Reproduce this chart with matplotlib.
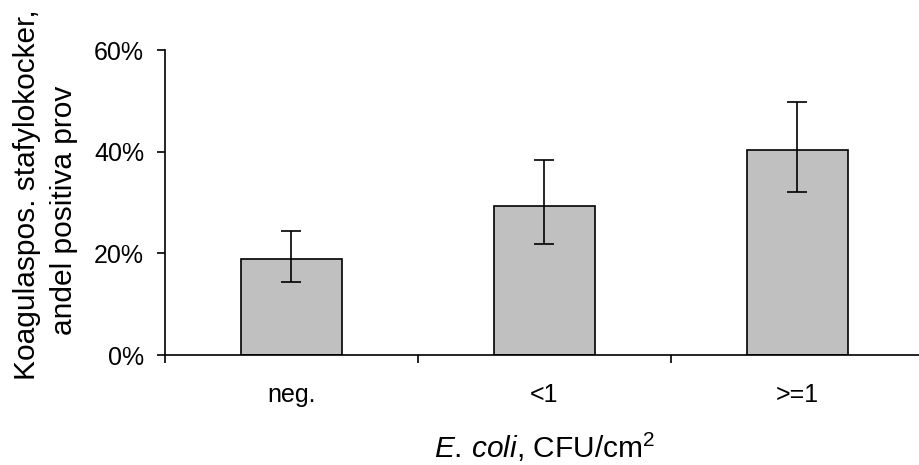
import matplotlib
matplotlib.use("Agg")
import matplotlib.pyplot as plt
from matplotlib.ticker import PercentFormatter

categories = ["neg.", "<1", ">=1"]
share = [18.8, 29.4, 40.4]
err_low = [14.4, 21.9, 32.1]
err_high = [24.3, 38.4, 49.8]
ylabel_lines = ["Koagulaspos. stafylokocker,", "andel positiva prov"]

plt.rcParams["font.family"] = ["Liberation Sans", "DejaVu Sans"]
plt.rcParams["mathtext.fontset"] = "custom"
plt.rcParams["mathtext.rm"] = "Liberation Sans"
plt.rcParams["mathtext.it"] = "Liberation Sans:italic"

W, H = 920, 465
fig = plt.figure(figsize=(W / 100, H / 100), dpi=100)
ax = fig.add_axes([165 / W, 1 - 355 / H, 3 * 253 / W, 305 / H])

x = list(range(len(categories)))
yerr = [[s - lo for s, lo in zip(share, err_low)],
        [hi - s for s, hi in zip(share, err_high)]]
ax.bar(x, share, width=0.4, color="#c0c0c0", edgecolor="black", linewidth=1.2)
ax.errorbar(x, share, yerr=yerr, fmt="none", ecolor="black", elinewidth=1.2,
            capsize=7, capthick=1.2)

ax.set_xlim(-0.5, 2.5)
ax.set_ylim(0, 60)
ax.set_yticks([0, 20, 40, 60])
ax.yaxis.set_major_formatter(PercentFormatter(decimals=0))
ax.tick_params(axis="y", length=6, width=1.2, pad=9, labelsize=18)

# category boundaries get the ticks, labels sit between them
ax.set_xticks([-0.5, 0.5, 1.5, 2.5])
ax.set_xticklabels([])
ax.set_xticks(x, minor=True)
ax.set_xticklabels(categories, minor=True)
ax.tick_params(axis="x", which="major", length=6, width=1.2)
ax.tick_params(axis="x", which="minor", length=0, pad=20, labelsize=18)

for side in ["top", "right"]:
    ax.spines[side].set_visible(False)
for side in ["left", "bottom"]:
    ax.spines[side].set_linewidth(1.2)

ax.set_xlabel(r"$\mathit{E.\,coli}$, CFU/cm$^2$", fontsize=21.5, labelpad=17)

# y label: two rotated lines, anchored at their baselines
for txt, bx, cy in zip(ylabel_lines, [35, 72], [195, 210]):
    fig.text(bx / W, 1 - cy / H, txt, rotation=90, rotation_mode="anchor",
             ha="center", va="baseline", fontsize=21.5)

fig.savefig("out.png", dpi=100)
